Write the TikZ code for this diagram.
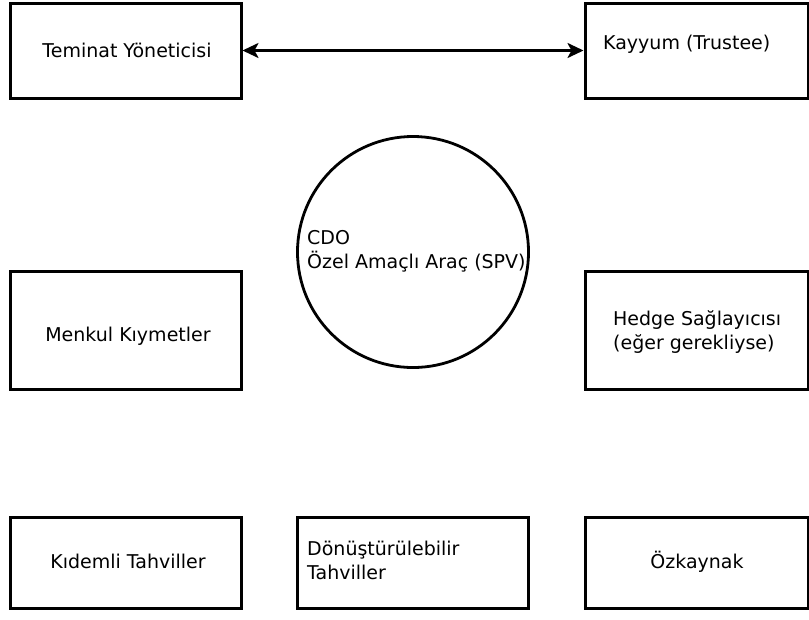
\documentclass[tikz,border=0pt]{standalone}
\usepackage{fontspec}
\setmainfont{DejaVu Sans}
\usetikzlibrary{arrows.meta}
\begin{document}
\begin{tikzpicture}[x=1pt,y=-1pt,
  box/.style={draw, line width=3pt, rectangle, inner sep=0pt},
  lbl/.style={font=\fontsize{19}{24}\selectfont, inner sep=0pt},
  conn/.style={line width=2.6pt, {Stealth[length=16pt,width=15pt,inset=4pt]}-{Stealth[length=16pt,width=15pt,inset=4pt]}}
  ]
\useasboundingbox (0,0) rectangle (809,619);
% boxes
\node[box, minimum width=231pt, minimum height=95pt] (tem) at (125.5,50.5) {};
\node[box, minimum width=223pt, minimum height=95pt] (kay) at (696.5,50.5) {};
\node[draw, circle, line width=2.8pt, minimum size=231pt, inner sep=0pt] (spv) at (413,252) {};
\node[box, minimum width=231pt, minimum height=118pt] (men) at (125.5,330) {};
\node[box, minimum width=223pt, minimum height=118pt] (hed) at (696.5,330) {};
\node[box, minimum width=231pt, minimum height=91pt] (kid) at (125.5,562.5) {};
\node[box, minimum width=231pt, minimum height=91pt] (don) at (412.5,562.5) {};
\node[box, minimum width=223pt, minimum height=91pt] (ozk) at (696.5,562.5) {};
% labels
\node[lbl, anchor=base] (temt) at (127,57) {Teminat Yöneticisi};
\node[lbl, anchor=base west] (kayt) at (603,49) {Kayyum (Trustee)};
\node[lbl, anchor=west, align=left] (spvt) at (307,251) {CDO\\Özel Amaçlı Araç (SPV)};
\node[lbl, anchor=base] (ment) at (128,341) {Menkul Kıymetler};
\node[lbl, anchor=west, align=left] (hedt) at (613,332) {Hedge Sağlayıcısı\\(eğer gerekliyse)};
\node[lbl, anchor=base] (kidt) at (128,568) {Kıdemli Tahviller};
\node[lbl, anchor=west, align=left] (dont) at (307,560) {Dönüştürülebilir\\Tahviller};
\node[lbl, anchor=base] (ozkt) at (697,568) {Özkaynak};
% connector
\draw[conn] (tem) -- (kay);
\end{tikzpicture}
\end{document}
